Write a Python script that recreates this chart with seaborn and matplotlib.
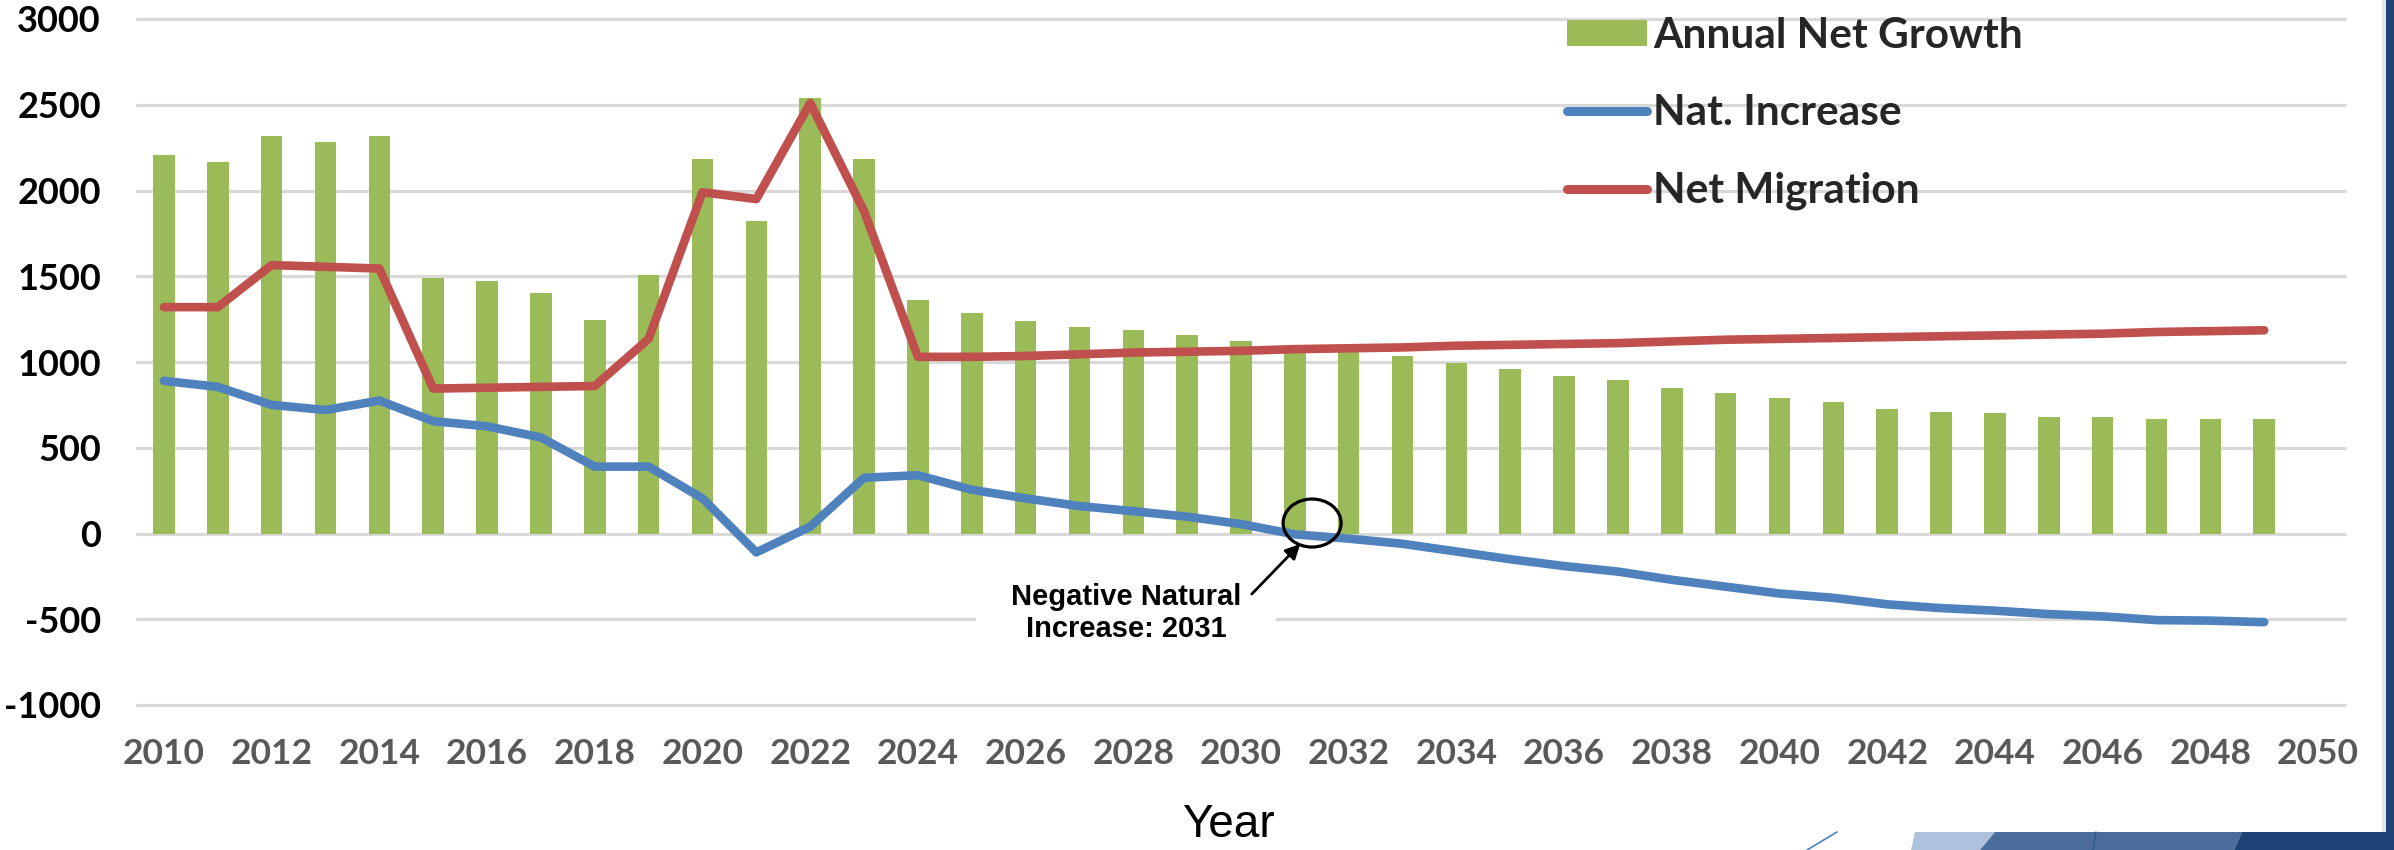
import numpy as np
import pandas as pd
import matplotlib
matplotlib.use("Agg")
import matplotlib.pyplot as plt
import seaborn as sns
from matplotlib.patches import Ellipse, Rectangle, Polygon, Patch
from matplotlib.lines import Line2D

# ---------------- data ----------------
years = list(range(2010, 2050))
annual_net_growth = [2205, 2165, 2315, 2285, 2315, 1490, 1470, 1405, 1245, 1510,
                     2185, 1825, 2540, 2185, 1360, 1285, 1240, 1205, 1185, 1160,
                     1120, 1080, 1060, 1035, 995, 960, 920, 895, 850, 820,
                     790, 765, 725, 710, 700, 680, 680, 668, 668, 668]
nat_increase = [890, 855, 750, 720, 775, 655, 625, 560, 390, 390,
                205, -110, 40, 325, 340, 255, 205, 160, 130, 98,
                55, -5, -30, -60, -105, -150, -190, -222, -270, -310,
                -350, -375, -413, -435, -450, -470, -483, -505, -508, -517]
net_migration = [1320, 1320, 1565, 1555, 1545, 845, 850, 855, 860, 1135,
                 1990, 1950, 2510, 1880, 1030, 1030, 1035, 1045, 1055, 1060,
                 1065, 1075, 1080, 1085, 1095, 1100, 1105, 1110, 1120, 1130,
                 1135, 1140, 1145, 1150, 1155, 1160, 1165, 1175, 1180, 1185]
tick_years = list(range(2010, 2051, 2))
y_ticks = list(range(-1000, 3001, 500))
series_names = ["Annual Net Growth", "Nat. Increase", "Net Migration"]
annotation_text = "Negative Natural\nIncrease: 2031"
x_title = "Year"

# ---------------- style ----------------
GREEN = "#9BBB59"
BLUE = "#4F81BD"
RED = "#C0504D"
GRID = "#D9D9D9"

sns.set_theme(style="white")
plt.rcParams["font.family"] = ["Lato", "DejaVu Sans"]

W, H = 2394, 850
fig = plt.figure(figsize=(W / 100, H / 100), dpi=100)
fig.patch.set_facecolor("white")


def fx(px):
    return px / W


def fy(py):
    return 1 - py / H


ax_left, ax_right, ax_top, ax_bottom = 137, 2345, 19, 705
ax = fig.add_axes([fx(ax_left), fy(ax_bottom), fx(ax_right - ax_left), (ax_bottom - ax_top) / H])
ax.set_facecolor("white")

df = pd.DataFrame({
    "Year": years,
    series_names[0]: annual_net_growth,
    series_names[1]: nat_increase,
    series_names[2]: net_migration,
})

sns.barplot(data=df, x="Year", y=series_names[0], native_scale=True, color=GREEN,
            saturation=1, width=0.4, linewidth=0, ax=ax, zorder=2)
sns.lineplot(data=df, x="Year", y=series_names[1], color=BLUE, lw=6.2, ax=ax, zorder=4,
             solid_capstyle="round", solid_joinstyle="round")
sns.lineplot(data=df, x="Year", y=series_names[2], color=RED, lw=6.2, ax=ax, zorder=4,
             solid_capstyle="round", solid_joinstyle="round")

ax.set_xlim(2009.5, 2050.5)
ax.set_ylim(-1000, 3000)
ax.set_xticks(tick_years)
ax.set_xticklabels([str(t) for t in tick_years], fontsize=25.5, fontweight="bold", color="#595959")
ax.set_yticks(y_ticks)
ax.set_yticklabels([str(t) for t in y_ticks], fontsize=26, fontweight="bold", color="black")
ax.set_xlabel("")
ax.set_ylabel("")
ax.tick_params(axis="both", length=0)
ax.tick_params(axis="y", pad=26)
ax.tick_params(axis="x", pad=24)
for s in ax.spines.values():
    s.set_visible(False)
ax.set_axisbelow(True)
ax.yaxis.grid(True, color=GRID, lw=2.3)
ax.xaxis.grid(False)
for gl in ax.get_ygridlines():
    gl.set_clip_on(False)

# legend
handles = [
    Patch(facecolor=GREEN, edgecolor="none"),
    Line2D([], [], color=BLUE, lw=6.5, solid_capstyle="round"),
    Line2D([], [], color=RED, lw=6.5, solid_capstyle="round"),
]
ax.legend(handles, series_names, loc="upper left",
          bbox_to_anchor=(fx(1567), fy(17)), bbox_transform=fig.transFigure,
          frameon=False, prop=dict(family=["Lato", "DejaVu Sans"], weight="bold", size=30.5),
          handlelength=1.9, handleheight=0.58, handletextpad=0.13, labelspacing=0.93,
          borderpad=0, borderaxespad=0)

# annotation
ax.text(2027.87, -464, annotation_text, ha="center", va="center", multialignment="center",
        fontsize=21, fontweight="bold", family=["Liberation Sans", "DejaVu Sans"],
        linespacing=1.15, color="black", zorder=6,
        bbox=dict(boxstyle="square,pad=1.2", fc="white", ec="none"))
ax.annotate("", xy=(2031.1, -61), xytext=(2030.2, -353),
            arrowprops=dict(arrowstyle="-|>", color="black", lw=2, mutation_scale=22,
                            shrinkA=0, shrinkB=0), zorder=8)
ax.add_patch(Ellipse((2031.32, 61), 1.077, 280, fill=False, ec="black", lw=2.3, zorder=8))

# axis title
fig.text(fx(1228), fy(825), x_title, ha="center", va="center", fontsize=33,
         family=["Liberation Sans", "DejaVu Sans"], color="black")

# slide decorations
NAVY = "#1D4374"
fig.add_artist(Rectangle((fx(2386), 0), fx(8), 1, transform=fig.transFigure,
                         fc=NAVY, ec="none", zorder=10))
fig.add_artist(Rectangle((fx(2382), 0), fx(4), 1, transform=fig.transFigure,
                         fc="#E3E6EA", ec="none", zorder=10))
fig.add_artist(Polygon([(fx(1911), fy(850)), (fx(1915), fy(832)), (fx(1995), fy(832)), (fx(1980), fy(850))],
                       closed=True, transform=fig.transFigure, fc="#ADC3DD", ec="none", zorder=10))
fig.add_artist(Polygon([(fx(1980), fy(850)), (fx(1995), fy(832)), (fx(2242), fy(832)), (fx(2234), fy(850))],
                       closed=True, transform=fig.transFigure, fc="#4A6D9B", ec="none", zorder=10))
fig.add_artist(Polygon([(fx(2234), fy(850)), (fx(2242), fy(832)), (fx(2394), fy(832)), (fx(2394), fy(850))],
                       closed=True, transform=fig.transFigure, fc=NAVY, ec="none", zorder=10))
fig.add_artist(Line2D([fx(2093), fx(2096)], [fy(850), fy(832)], transform=fig.transFigure,
                      color="#2E5A8E", lw=1, zorder=11))
fig.add_artist(Line2D([fx(1807), fx(1837)], [fy(850), fy(832)], transform=fig.transFigure,
                      color=BLUE, lw=1.2, zorder=11))

fig.savefig("out.png", dpi=100, facecolor="white")
